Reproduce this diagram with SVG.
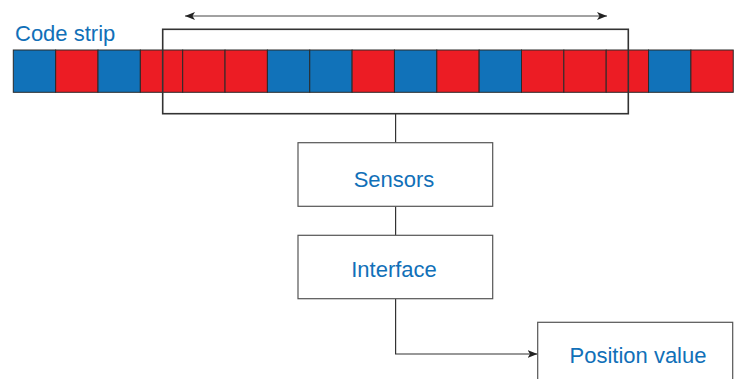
<svg xmlns="http://www.w3.org/2000/svg" width="735" height="379" viewBox="0 0 735 379">
<defs>
<style>
.b{fill:#1172b9}
.r{fill:#ec1c24}
.cell{stroke:#2a2a2a;stroke-width:1}
.box{fill:#fff;stroke:#555;stroke-width:1.2}
.lbl{font-family:"Liberation Sans",Arial,sans-serif;font-size:22px;fill:#1170b8}
.conn{fill:none;stroke:#333;stroke-width:1.2}
</style>
<marker id="ah" markerWidth="11" markerHeight="9" refX="10" refY="4.5" orient="auto-start-reverse" markerUnits="userSpaceOnUse">
<path d="M0,0.5 L10,4.5 L0,8.5 L2.5,4.5 Z" fill="#222"/>
</marker>
</defs>
<rect width="735" height="379" fill="#fff"/>
<text x="15" y="40.7" class="lbl">Code strip</text>
<g id="strip">
<rect class="cell b" x="13.3" y="50" width="42.35" height="42.3"/>
<rect class="cell r" x="55.65" y="50" width="42.35" height="42.3"/>
<rect class="cell b" x="98" y="50" width="42.35" height="42.3"/>
<rect class="cell r" x="140.35" y="50" width="42.35" height="42.3"/>
<rect class="cell r" x="182.7" y="50" width="42.35" height="42.3"/>
<rect class="cell r" x="225.05" y="50" width="42.35" height="42.3"/>
<rect class="cell b" x="267.4" y="50" width="42.35" height="42.3"/>
<rect class="cell b" x="309.75" y="50" width="42.35" height="42.3"/>
<rect class="cell r" x="352.1" y="50" width="42.35" height="42.3"/>
<rect class="cell b" x="394.45" y="50" width="42.35" height="42.3"/>
<rect class="cell r" x="436.8" y="50" width="42.35" height="42.3"/>
<rect class="cell b" x="479.15" y="50" width="42.35" height="42.3"/>
<rect class="cell r" x="521.5" y="50" width="42.35" height="42.3"/>
<rect class="cell r" x="563.85" y="50" width="42.35" height="42.3"/>
<rect class="cell r" x="606.2" y="50" width="42.35" height="42.3"/>
<rect class="cell b" x="648.55" y="50" width="42.35" height="42.3"/>
<rect class="cell r" x="690.9" y="50" width="42.35" height="42.3"/>
</g>
<g id="window">
<rect x="162.7" y="29.3" width="465.6" height="84.4" fill="none" stroke="#333" stroke-width="1.6"/>
</g>
<g id="connectors">
<line x1="185" y1="16" x2="607" y2="16" stroke="#444" stroke-width="1" marker-start="url(#ah)" marker-end="url(#ah)"/>
<line class="conn" x1="395.6" y1="113.7" x2="395.6" y2="142.7"/>
<line class="conn" x1="395.6" y1="206.3" x2="395.6" y2="235.3"/>
<path class="conn" d="M395.6,298.7 V354 H537.5" marker-end="url(#ah)"/>
</g>
<g id="sensors">
<rect class="box" x="298" y="142.7" width="194.7" height="63.6"/>
<text x="394" y="186.7" class="lbl" text-anchor="middle">Sensors</text>
</g>
<g id="interface">
<rect class="box" x="298" y="235.3" width="194.7" height="63.4"/>
<text x="394" y="276.7" class="lbl" text-anchor="middle">Interface</text>
</g>
<g id="position">
<rect class="box" x="537.7" y="322.3" width="195" height="70"/>
<text x="638" y="363.3" class="lbl" text-anchor="middle">Position value</text>
</g>
</svg>
